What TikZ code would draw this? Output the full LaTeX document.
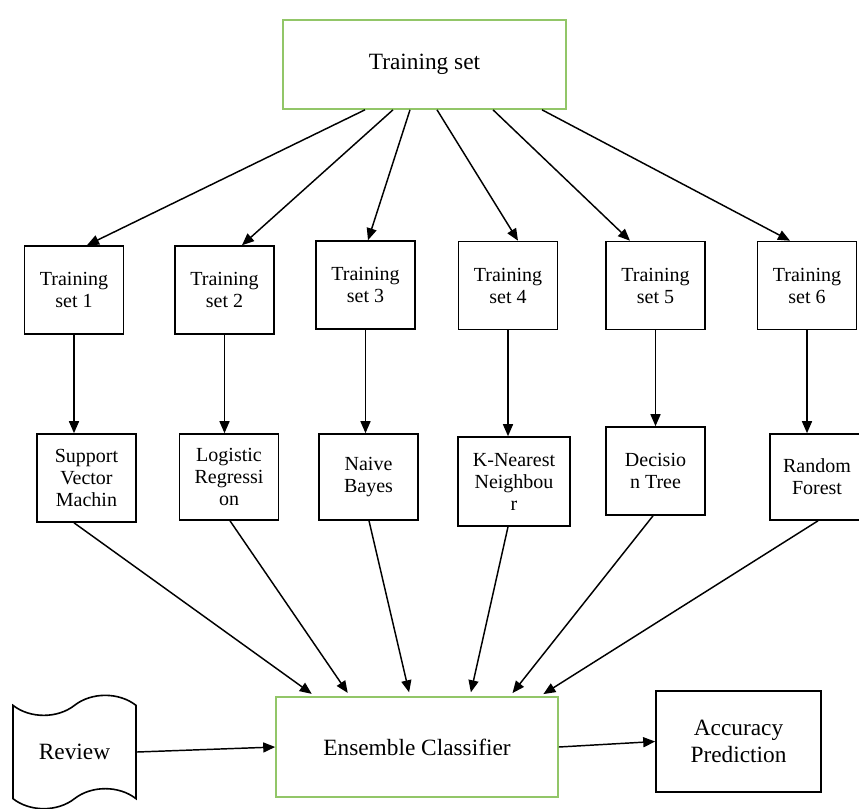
\documentclass[tikz,border=0pt]{standalone}
\usepackage{fontspec}
\IfFontExistsTF{LiberationSerif-Regular.ttf}
  {\setmainfont{LiberationSerif-Regular.ttf}[BoldFont=LiberationSerif-Bold.ttf]}
  {\setmainfont{Liberation Serif}}
\usetikzlibrary{arrows.meta,shapes.symbols}
\definecolor{boxgreen}{RGB}{146,198,104}
\begin{document}
\begin{tikzpicture}[
  x=0.75pt, y=-0.75pt,
  setbox/.style={draw, line width=1.2pt, minimum width=74.25pt, minimum height=66pt,
    inner sep=1pt, align=center, font=\fontsize{15}{16.5}\selectfont},
  bigbox/.style={draw, line width=1.2pt, inner sep=1pt, align=center,
    font=\fontsize{17.5}{20}\selectfont},
  greenbox/.style={bigbox, draw=boxgreen},
  arr/.style={-{Triangle[length=9pt,width=7.5pt]}, line width=1.1pt}
]
\useasboundingbox (0,0) rectangle (859,808);

\node[greenbox, minimum width=212.25pt, minimum height=66.75pt] (train) at (424.5,64.5) {Training set};

\node[setbox] (ts1) at (74,290)    {Training\\set 1};
\node[setbox] (ts2) at (224.5,290) {Training\\set 2};
\node[setbox] (ts3) at (365.5,285) {Training\\set 3};
\node[setbox] (ts4) at (508,285.5) {Training\\set 4};
\node[setbox] (ts5) at (655.5,285.5) {Training\\set 5};
\node[setbox] (ts6) at (807,285.5) {Training\\set 6};

\node[setbox] (svm) at (86.5,478) {Support\\Vector\\Machin};
\node[setbox, minimum height=64.5pt] (lr) at (229,477) {Logistic\\Regressi\\on};
\node[setbox, minimum height=64.5pt] (nb) at (368.5,477) {Naive\\Bayes};
\node[setbox, minimum width=84pt, minimum height=66.75pt] (knn) at (514,481.5) {K-Nearest\\Neighbou\\r};
\node[setbox] (dt) at (655.5,471) {Decisio\\n Tree};
\node[setbox, minimum width=70.5pt, minimum height=64.5pt] (rf) at (817,477) {Random\\Forest};

\node[greenbox, minimum width=211.5pt, minimum height=75pt] (ens) at (417,747) {Ensemble Classifier};
\node[bigbox, minimum width=123.75pt, minimum height=75.75pt] (acc) at (738.5,741.5) {Accuracy\\Prediction};
\node[bigbox, shape=tape, tape bend height=15pt, minimum width=92.25pt, minimum height=85pt] (rev) at (74.5,752) {Review};

\foreach \s/\t/\n in {365/87/ts1, 393/242/ts2, 410/368/ts3, 437/518/ts4, 493/630/ts5, 542/790/ts6}
  \draw[arr] (\s,0 |- train.south) -- (\t,0 |- \n.north);

\foreach \n/\m in {ts1/svm, ts2/lr, ts3/nb, ts4/knn, ts5/dt, ts6/rf}
  \draw[arr] (\n) -- (\n |- \m.north);

\foreach \s/\n/\t in {74/svm/315, 230/lr/350, 369/nb/410, 508/knn/470, 653/dt/510, 818/rf/540}
  \draw[arr, shorten >=3pt] (\s,0 |- \n.south) -- (\t,0 |- ens.north);

\draw[arr] (rev.east) -- (ens.west);
\draw[arr] (ens.east) -- (acc.west);
\end{tikzpicture}
\end{document}
